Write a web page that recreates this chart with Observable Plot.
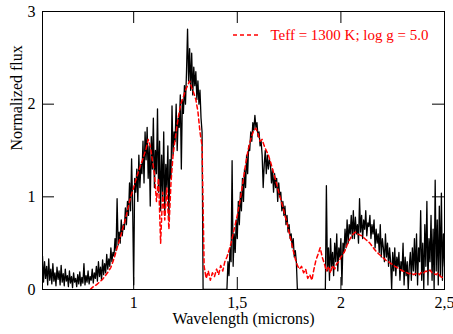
<!DOCTYPE html>
<html><head><meta charset="utf-8">
<script src="https://cdn.jsdelivr.net/npm/d3@7"></script>
<script src="https://cdn.jsdelivr.net/npm/@observablehq/plot@0.6"></script>
<style>html,body{margin:0;padding:0;background:#fff}svg{display:block}svg text{font-family:"Liberation Serif","Times New Roman",serif !important}</style>
</head><body><div id="chart"></div>
<script>
// Observed spectrum: sampled every 0.005 micron from 0.56 micron
const obsStart = 0.56, obsStep = 0.005;
const observedFlux = [
0.36,0.08,0.30,0.12,0.25,0.05,0.33,0.10,0.22,0.06,0.28,0.09,0.18,0.04,0.24,0.11,0.20,0.05,0.26,0.08,
0.17,0.04,0.22,0.09,0.15,0.03,0.20,0.07,0.14,0.02,0.18,0.08,0.12,0.03,0.16,0.06,0.19,0.04,0.13,0.07,
0.28,0.05,0.15,0.08,0.20,0.06,0.14,0.10,0.22,0.07,0.18,0.12,0.25,0.09,0.30,0.14,0.24,0.10,0.32,0.16,
0.28,0.18,0.38,0.22,0.33,0.25,0.45,0.30,0.40,0.36,0.55,0.42,0.98,0.48,0.62,0.50,0.75,0.58,0.70,0.65,
0.88,0.70,0.95,0.80,1.15,0.85,1.41,0.90,0.05,1.20,1.05,1.30,0.95,1.45,1.10,1.35,1.25,1.60,1.15,1.70,
1.40,1.75,1.20,1.55,0.90,1.65,1.30,1.85,1.10,1.50,1.25,1.95,1.05,1.60,0.85,1.45,1.00,1.70,0.80,1.35,
1.10,1.55,0.75,1.40,1.20,1.98,1.45,1.70,1.60,2.00,1.50,1.85,1.75,2.10,1.30,2.05,1.90,2.20,2.00,2.35,
2.81,2.25,2.60,2.15,2.55,2.10,2.40,2.20,2.35,2.05,2.25,2.00,2.15,1.85,1.70,0,0,0,0,0,
0,0,0,0,0,0,0,0,0,0,0,0,0,0,0,0,0,0,0,0.30,
0.15,0.45,0.30,1.39,0.25,0.60,0.40,0.75,0.55,0.95,0.70,1.05,0.85,1.20,0.95,1.30,1.10,1.45,1.25,1.55,
1.50,1.70,1.60,1.80,1.72,1.88,1.75,1.80,1.65,1.70,1.55,1.60,1.45,1.10,1.35,1.50,1.25,1.45,1.30,1.40,
1.35,1.15,1.30,1.05,1.25,1.10,1.20,0.95,1.15,1.00,1.05,0.85,0.95,0.80,0.90,0.70,0.80,0.62,0.70,0.55,
0.60,0.45,0.55,0.35,0.42,0.30,0,0,0,0,0,0,0,0,0,0,0,0,0,0,
0,0,0,0,0,0,0,0,0,0,0,0,0,0,1.12,0.20,0.45,0.10,0.55,0.25,
0.40,0.15,0.50,0.30,0.60,0.20,0.45,0.35,0.55,0.05,0.50,0.40,0.65,0.45,0.75,0.50,0.70,0.60,0.80,0.55,
0.85,0.55,0.78,0.60,0.70,0.50,0.98,0.62,0.80,0.55,0.75,0.65,0.85,0.58,0.72,0.68,0.80,0.55,0.70,0.60,
0.75,0.45,0.65,0.50,0.60,0.40,0.70,0.35,0.55,0.45,0.30,0.60,0.35,0.50,0.25,0.45,0.30,0.00,0.40,0.20,
0.45,0.15,0.35,0.25,0.40,0.10,0.30,0.20,0.50,0.05,0.35,0.15,0.30,0.00,0.25,0.40,0.10,0.45,0.20,0.55,
0.15,0.60,0.05,0.45,0.30,0.85,0.10,0.50,0.00,0.70,0.25,0.95,0.05,0.55,0.30,0.80,0.10,0.65,0.00,1.18,
0.20,0.75,0.05,0.90,0.15,1.04,0.10,0.60,0.25
];
// Model spectrum (Teff = 1300 K, log g = 5.0): every 0.01 micron from 0.79 micron
const modelStart = 0.79, modelStep = 0.01;
const modelFlux = [
0.00,0.02,0.04,0.05,0.07,0.09,0.11,0.14,0.17,0.20,
0.24,0.30,0.37,0.45,0.52,0.60,0.68,0.76,0.85,0.95,
1.03,1.10,1.18,1.25,1.32,1.38,1.45,1.52,1.62,1.55,
1.40,1.25,0.95,1.20,0.50,1.05,0.75,1.10,0.65,1.15,
1.45,1.62,1.78,1.92,2.02,2.08,2.15,2.20,2.25,2.18,
2.12,2.05,1.92,1.70,1.55,0.25,0.12,0.20,0.10,0.18,
0.14,0.22,0.16,0.26,0.20,0.30,0.35,0.42,0.50,0.60,
0.70,0.80,0.92,1.05,1.20,1.35,1.48,1.58,1.66,1.72,
1.74,1.68,1.60,1.62,1.55,1.50,1.45,1.38,1.30,1.22,
1.14,1.05,0.97,0.89,0.80,0.72,0.62,0.52,0.42,0.33,
0.26,0.22,0.25,0.18,0.22,0.12,0.16,0.10,0.22,0.32,
0.38,0.45,0.35,0.28,0.20,0.25,0.18,0.26,0.22,0.28,
0.30,0.35,0.38,0.42,0.48,0.53,0.57,0.60,0.62,0.60,
0.59,0.58,0.56,0.54,0.52,0.50,0.47,0.44,0.41,0.39,
0.37,0.35,0.33,0.31,0.30,0.28,0.27,0.25,0.24,0.22,
0.21,0.20,0.19,0.18,0.17,0.18,0.16,0.17,0.18,0.16,
0.19,0.18,0.20,0.19,0.21,0.18,0.17,0.16,0.18,0.14,
0.13,0.14
];
const xDomain = [0.56, 2.5];
const yDomain = [0, 3];
const xTicks = [1, 1.5, 2, 2.5];
const yTicks = [0, 1, 2, 3];
const xLabel = "Wavelength (microns)";
const yLabel = "Normalized flux";
const legendLabel = "Teff = 1300 K; log g = 5.0";

const observed = observedFlux.map((f, i) => ({w: +(obsStart + i * obsStep).toFixed(3), f}));
const model = modelFlux.map((f, i) => ({w: +(modelStart + i * modelStep).toFixed(3), f}));
const fmt = d => String(d).replace(".", ",");
const innerX = xTicks.filter(d => d > xDomain[0] && d < xDomain[1]);
const innerY = yTicks.filter(d => d > yDomain[0] && d < yDomain[1]);

const serif = "Liberation Serif";
const W = 453, H = 334, mL = 42, mR = 9, mT = 11, mB = 45;
const tickLen = 12;
const innerW = W - mL - mR, innerH = H - mT - mB;

const plot = Plot.plot({
  width: W, height: H,
  marginLeft: mL, marginRight: mR, marginTop: mT, marginBottom: mB,
  style: {fontFamily: serif, fontSize: "16px", background: "#fff", color: "#000", overflow: "visible"},
  x: {domain: xDomain},
  y: {domain: yDomain},
  marks: [
    Plot.lineY(observed, {x: "w", y: "f", stroke: "#000", strokeWidth: 1.3, clip: true}),
    Plot.lineY(model, {x: "w", y: "f", stroke: "#ff0000", strokeWidth: 1.5, strokeDasharray: "4,3", clip: true}),
    Plot.frame({stroke: "#000", strokeWidth: 1}),
    Plot.tickX(innerX, {x: d => d, stroke: "#000", insetTop: innerH - tickLen}),
    Plot.tickX(innerX, {x: d => d, stroke: "#000", insetBottom: innerH - tickLen}),
    Plot.tickY(innerY, {y: d => d, stroke: "#000", insetRight: innerW - tickLen}),
    Plot.tickY(innerY, {y: d => d, stroke: "#000", insetLeft: innerW - tickLen}),
    Plot.axisX({ticks: xTicks, tickSize: 0, tickPadding: 7, tickFormat: fmt, label: null, fontSize: 16, fontFamily: serif}),
    Plot.axisY({ticks: yTicks, tickSize: 0, tickPadding: 7, tickFormat: fmt, label: null, fontSize: 16, fontFamily: serif}),
    Plot.text([xLabel], {text: d => d, frameAnchor: "bottom", dy: 34, lineAnchor: "bottom", fontSize: 16, fontFamily: serif, fill: "#000"}),
    Plot.text([yLabel], {text: d => d, frameAnchor: "left", rotate: -90, dx: -21, lineAnchor: "bottom", fontSize: 16, fontFamily: serif, fill: "#000"}),
    Plot.text([legendLabel], {text: d => d, frameAnchor: "top-right", dx: -16, dy: 24, textAnchor: "end", lineAnchor: "middle", fontSize: 15, fontFamily: serif, fill: "#ff0000"})
  ]
});
// legend swatch (dashed red line) beside the legend text
d3.select(plot).append("line")
  .attr("x1", 233).attr("x2", 260).attr("y1", 35).attr("y2", 35)
  .attr("stroke", "#ff0000").attr("stroke-width", 1.5).attr("stroke-dasharray", "4,3");
document.getElementById("chart").appendChild(plot);
</script>
</body></html>
